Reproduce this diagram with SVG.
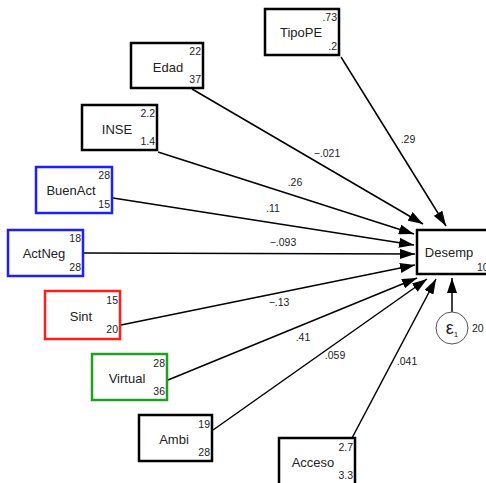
<svg xmlns="http://www.w3.org/2000/svg" width="486" height="483" viewBox="0 0 486 483">
<defs>
<marker id="ah" markerUnits="userSpaceOnUse" markerWidth="16" markerHeight="10" refX="15" refY="5" orient="auto">
<path d="M0,0 L15,5 L0,10 z" fill="#000"/>
</marker>
<style>
.box{fill:#fff;stroke:#000;stroke-width:2.5}
.blue{stroke:#1e1eff}
.red{stroke:#ff1e1e}
.green{stroke:#22a022}
.lbl{font-family:"Liberation Sans",Arial,sans-serif;font-size:13px;fill:#222;text-anchor:middle}
.num{font-family:"Liberation Sans",Arial,sans-serif;font-size:10.5px;fill:#222;text-anchor:end}
.el{font-family:"Liberation Sans",Arial,sans-serif;font-size:10.5px;fill:#222;text-anchor:middle}
.eps{font-family:"Liberation Sans",Arial,sans-serif;font-size:18px;fill:#222;text-anchor:middle}
.sub{font-size:8px}
.edge{stroke:#000;stroke-width:1.5;fill:none;marker-end:url(#ah)}
</style>
</defs>
<rect width="486" height="483" fill="#fff"/>
<g id="connectors">
<line class="edge" x1="341" y1="57" x2="446" y2="226"/>
<line class="edge" x1="192" y1="89" x2="423" y2="224"/>
<line class="edge" x1="158" y1="152" x2="414" y2="234"/>
<line class="edge" x1="113" y1="198" x2="414" y2="245"/>
<line class="edge" x1="84" y1="253" x2="415" y2="254"/>
<line class="edge" x1="121" y1="325" x2="415" y2="265"/>
<line class="edge" x1="168" y1="380" x2="417" y2="278"/>
<line class="edge" x1="213" y1="430" x2="427" y2="279"/>
<line class="edge" x1="352" y1="438" x2="436" y2="279"/>
<line class="edge" x1="452" y1="312" x2="452" y2="278"/>
<text class="el" x="408" y="143">.29</text>
<text class="el" x="327" y="157">−.021</text>
<text class="el" x="295" y="186">.26</text>
<text class="el" x="273" y="212">.11</text>
<text class="el" x="283" y="246">−.093</text>
<text class="el" x="279" y="306">−.13</text>
<text class="el" x="303" y="341">.41</text>
<text class="el" x="335" y="359">.059</text>
<text class="el" x="407" y="365">.041</text>
</g>
<g id="TipoPE">
<rect class="box" x="265" y="9" width="74" height="46"/>
<text class="lbl" x="301" y="37">TipoPE</text>
<text class="num" x="337" y="21">.73</text>
<text class="num" x="337" y="50">.2</text>
</g>
<g id="Edad">
<rect class="box" x="131" y="43" width="72" height="45"/>
<text class="lbl" x="168" y="72">Edad</text>
<text class="num" x="201" y="55">22</text>
<text class="num" x="201" y="83">37</text>
</g>
<g id="INSE">
<rect class="box" x="82" y="105" width="75" height="45"/>
<text class="lbl" x="117" y="134">INSE</text>
<text class="num" x="155" y="117">2.2</text>
<text class="num" x="155" y="145">1.4</text>
</g>
<g id="BuenAct">
<rect class="box blue" x="36" y="167" width="76" height="46"/>
<text class="lbl" x="71" y="195">BuenAct</text>
<text class="num" x="110" y="179">28</text>
<text class="num" x="110" y="208">15</text>
</g>
<g id="ActNeg">
<rect class="box blue" x="8" y="230" width="75" height="46"/>
<text class="lbl" x="44" y="258">ActNeg</text>
<text class="num" x="81" y="242">18</text>
<text class="num" x="81" y="271">28</text>
</g>
<g id="Sint">
<rect class="box red" x="45" y="291" width="75" height="48"/>
<text class="lbl" x="81" y="321">Sint</text>
<text class="num" x="118" y="304">15</text>
<text class="num" x="118" y="333">20</text>
</g>
<g id="Virtual">
<rect class="box green" x="92" y="354" width="75" height="46"/>
<text class="lbl" x="127" y="383">Virtual</text>
<text class="num" x="165" y="367">28</text>
<text class="num" x="165" y="395">36</text>
</g>
<g id="Ambi">
<rect class="box" x="139" y="415" width="73" height="46"/>
<text class="lbl" x="174" y="444">Ambi</text>
<text class="num" x="210" y="428">19</text>
<text class="num" x="210" y="456">28</text>
</g>
<g id="Acceso">
<rect class="box" x="279" y="438" width="76" height="50"/>
<text class="lbl" x="313" y="467">Acceso</text>
<text class="num" x="353" y="451">2.7</text>
<text class="num" x="353" y="479">3.3</text>
</g>
<g id="Desemp">
<rect class="box" x="417" y="230" width="80" height="44"/>
<text class="lbl" x="449" y="257">Desemp</text>
<text class="num" x="477" y="271" style="text-anchor:start">10</text>
</g>
<g id="e1">
<circle cx="452" cy="328" r="16" fill="#fff" stroke="#555" stroke-width="1"/>
<text class="eps" x="452" y="334">ε<tspan class="sub" dy="3">1</tspan></text>
<text class="num" x="472" y="332" style="text-anchor:start">20</text>
</g>
</svg>
